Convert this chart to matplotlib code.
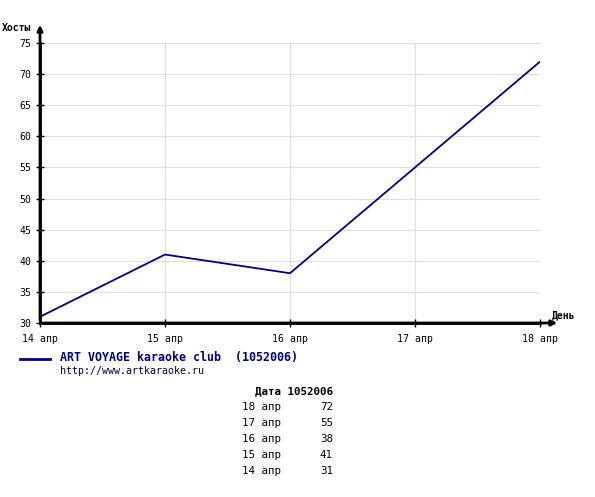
import matplotlib.pyplot as plt
import numpy as np

# Data
days = ['14 апр', '15 апр', '16 апр', '17 апр', '18 апр']
hosts = [31, 41, 38, 55, 72]
y_ticks = [30, 35, 40, 45, 50, 55, 60, 65, 70, 75]
series_name = 'ART VOYAGE karaoke club  (1052006)'
series_url = 'http://www.artkaraoke.ru'
table_header = 'Дата 1052006'

W, H = 595, 497
fig = plt.figure(figsize=(W / 100, H / 100), dpi=100)
ax = fig.add_axes([40 / W, 1 - 323 / H, 500 / W, 280 / H])

mono = 'DejaVu Sans Mono'
navy = '#000080'

x = np.arange(len(days))
ax.plot(x, hosts, color=navy, lw=1.3, zorder=3)

ax.set_xlim(0, len(days) - 1)
ax.set_ylim(30, 75)
ax.set_xticks(x)
ax.set_xticklabels(days, fontfamily=mono, fontsize=7.1)
ax.set_yticks(y_ticks)
ax.set_yticklabels([str(v) for v in y_ticks], fontfamily=mono, fontsize=7.1)
ax.tick_params(direction='inout', length=6, width=1, pad=3)
ax.tick_params(axis='x', pad=5)
ax.grid(True, color='#dddddd', lw=0.8)
ax.set_axisbelow(True)

for s in ['top', 'right']:
    ax.spines[s].set_visible(False)
for s in ['left', 'bottom']:
    ax.spines[s].set_linewidth(2)
    ax.spines[s].set_zorder(4)

# axis arrows
ax.annotate('', xy=(40 / W, 1 - 22 / H), xytext=(40 / W, 1 - 323 / H),
            xycoords='figure fraction',
            arrowprops=dict(arrowstyle='-|>', color='black', lw=2, mutation_scale=8))
ax.annotate('', xy=(560 / W, 1 - 323 / H), xytext=(40 / W, 1 - 323 / H),
            xycoords='figure fraction',
            arrowprops=dict(arrowstyle='-|>', color='black', lw=2, mutation_scale=8))

fig.text(2 / W, 1 - 28 / H, 'Хосты', fontfamily=mono, fontsize=7,
         fontweight='bold', va='center', ha='left')
fig.text(575 / W, 1 - 315 / H, 'День', fontfamily=mono, fontsize=7,
         fontweight='bold', va='center', ha='right')

# legend
fig.add_artist(plt.Line2D([20 / W, 50 / W], [1 - 359 / H, 1 - 359 / H],
                          color=navy, lw=2))
fig.text(60 / W, 1 - 358 / H, series_name, fontfamily=mono, fontsize=8.4,
         fontweight='bold', color=navy, va='center', ha='left')
fig.text(60 / W, 1 - 371 / H, series_url, fontfamily=mono, fontsize=7.2,
         color='#000033', va='center', ha='left')

# table
fig.text(333 / W, 1 - 391 / H, table_header, fontfamily=mono, fontsize=7.8,
         fontweight='bold', va='center', ha='right')
for i, (d, v) in enumerate(zip(days[::-1], hosts[::-1])):
    yy = 1 - (407 + 16 * i) / H
    fig.text(242 / W, yy, d, fontfamily=mono, fontsize=7.8, va='center', ha='left')
    fig.text(333 / W, yy, str(v), fontfamily=mono, fontsize=7.8, va='center', ha='right')

fig.savefig('out.png', dpi=100)
